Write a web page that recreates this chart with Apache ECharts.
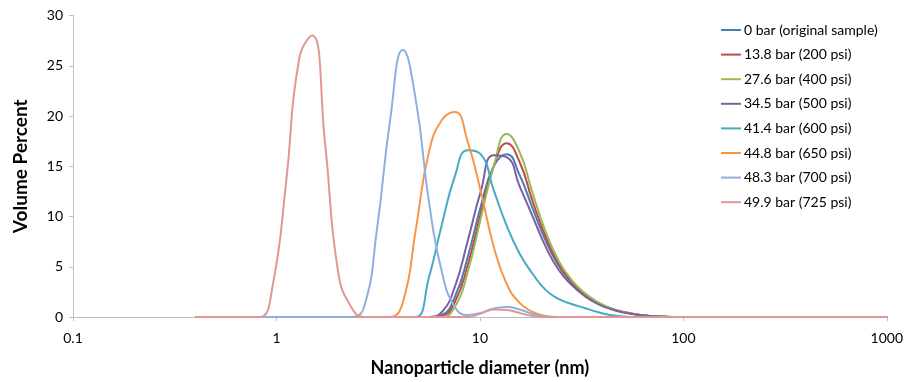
<!DOCTYPE html>
<html><head><meta charset="utf-8">
<script src="https://cdn.jsdelivr.net/npm/echarts@6/dist/echarts.min.js"></script>
<style>html,body{margin:0;padding:0;background:#fff}#c{width:906px;height:382px}</style>
</head><body><div id="c"></div>
<script>
// Particle diameter bins (nm)
var diameters = [0.4, 0.4632, 0.5365, 0.6213, 0.7195, 0.8332, 0.9649, 1.117, 1.294, 1.499, 1.736, 2.01, 2.328, 2.696, 3.122, 3.615, 4.187, 4.849, 5.615, 6.503, 7.531, 8.721, 10.10, 11.70, 13.54, 15.69, 18.17, 21.04, 24.36, 28.21, 32.67, 37.84, 43.82, 50.75, 58.77, 68.06, 78.82, 91.28, 105.7, 122.4, 141.8, 164.2, 190.1, 220.2, 255.0, 295.3, 342.0, 396.1, 458.7, 531.2, 615.1, 712.4, 825.0, 955.4, 1106];
var seriesNames = ["0 bar (original sample)", "13.8 bar (200 psi)", "27.6 bar (400 psi)", "34.5 bar (500 psi)", "41.4 bar (600 psi)", "44.8 bar (650 psi)", "48.3 bar (700 psi)", "49.9 bar (725 psi)"];
//                0.4 ... (first 19 bins up to 5.615)                          6.503 7.531 8.721 10.10 11.70 13.54 15.69 18.17 21.04 24.36 28.21 32.67 37.84 43.82 50.75 58.77 68.06 78.82 91.28 ...
var bar0   = [0,0,0,0,0,0,0,0,0,0,0,0,0,0,0,0,0,0,0, 0.2, 2.0, 6.0, 11.0, 15.0, 16.2, 14.1, 10.8, 7.6, 5.1, 3.4, 2.2, 1.4, 0.85, 0.5, 0.25, 0.1, 0.03, 0, 0,0,0,0,0,0,0,0,0,0,0,0,0,0,0,0,0];
var bar138 = [0,0,0,0,0,0,0,0,0,0,0,0,0,0,0,0,0,0,0, 0.1, 1.5, 5.2, 10.3, 15.0, 17.3, 15.4, 11.5, 8.0, 5.3, 3.5, 2.3, 1.4, 0.85, 0.5, 0.25, 0.1, 0.03, 0, 0,0,0,0,0,0,0,0,0,0,0,0,0,0,0,0,0];
var bar276 = [0,0,0,0,0,0,0,0,0,0,0,0,0,0,0,0,0,0,0, 0.0, 1.0, 4.5, 9.8, 15.0, 18.2, 16.4, 12.3, 8.5, 5.6, 3.7, 2.4, 1.5, 0.9, 0.5, 0.25, 0.1, 0.03, 0, 0,0,0,0,0,0,0,0,0,0,0,0,0,0,0,0,0];
var bar345 = [0,0,0,0,0,0,0,0,0,0,0,0,0,0,0,0,0,0,0, 0.5, 3.0, 7.6, 12.5, 16.1, 15.9, 13.0, 10.0, 7.0, 4.7, 3.2, 2.1, 1.3, 0.8, 0.45, 0.25, 0.1, 0.05, 0, 0,0,0,0,0,0,0,0,0,0,0,0,0,0,0,0,0];
//                0.4 ... up to 4.849 (18 bins)          5.615 6.503 7.531 8.721 10.10 11.70 13.54 15.69 18.17 21.04 24.36 28.21 32.67 37.84 43.82 50.75 ...
var bar414 = [0,0,0,0,0,0,0,0,0,0,0,0,0,0,0,0,0,0, 3.9, 9.2, 14.0, 16.6, 16.2, 12.6, 9.1, 6.3, 4.3, 2.7, 1.8, 1.3, 0.9, 0.5, 0.2, 0.05, 0, 0,0,0,0,0,0,0,0,0,0,0,0,0,0,0,0,0,0,0,0];
//                0.4 ... up to 3.615 (16 bins)    4.187 4.849 5.615 6.503 7.531 8.721 10.10 11.70 13.54 15.69 18.17 21.04 24.36
var bar448 = [0,0,0,0,0,0,0,0,0,0,0,0,0,0,0,0, 1.5, 8.8, 16.4, 19.6, 20.4, 17.4, 12.5, 7.0, 3.3, 1.4, 0.5, 0.1, 0, 0,0,0,0,0,0,0,0,0,0,0,0,0,0,0,0,0,0,0,0,0,0,0,0,0,0];
//                0.4 ... up to 2.328 (13 bins)  2.696 3.122 3.615 4.187 4.849 5.615 6.503 7.531 8.721 10.10 11.70 13.54 15.69 18.17 21.04
var bar483 = [0,0,0,0,0,0,0,0,0,0,0,0,0, 1.0, 8.8, 19.5, 26.6, 21.5, 11.5, 4.5, 1.0, 0.2, 0.4, 0.85, 1.0, 0.75, 0.3, 0.05, 0, 0,0,0,0,0,0,0,0,0,0,0,0,0,0,0,0,0,0,0,0,0,0,0,0,0,0];
//                0.4 .. 0.8332 (6 bins) 0.9649 1.117 1.294 1.499 1.736 2.01 2.328 2.696 ... 8.721 10.10 11.70 13.54 15.69 18.17 21.04
var bar499 = [0,0,0,0,0,0, 3.5, 13.5, 25.7, 28.0, 17.2, 4.5, 1.0, 0, 0,0,0,0,0,0,0,0, 0.35, 0.75, 0.7, 0.4, 0.1, 0, 0,0,0,0,0,0,0,0,0,0,0,0,0,0,0,0,0,0,0,0,0,0,0,0,0,0,0];
var xTicks = [0.1, 1, 10, 100, 1000];
var yTicks = [0, 5, 10, 15, 20, 25, 30];

var allValues = [bar0, bar138, bar276, bar345, bar414, bar448, bar483, bar499];
var colors = ["#4A7EBB", "#BE4B48", "#98B954", "#7D60A0", "#46AAC5", "#F79646", "#8EB0E0", "#E29796"];

var chart = echarts.init(document.getElementById('c'), null, {renderer: 'canvas'});
var font = 'Lato, "Liberation Sans", sans-serif';
var series = allValues.map(function (vals, i) {
  return {
    name: seriesNames[i],
    type: 'line',
    smooth: 0.5,
    symbol: 'none',
    showSymbol: false,
    clip: true,
    lineStyle: {width: 2, color: colors[i]},
    itemStyle: {color: colors[i]},
    data: diameters.map(function (d, k) { return [d, vals[k]]; })
  };
});
chart.setOption({
  animation: false,
  backgroundColor: '#fff',
  color: colors,
  grid: {left: 73, right: 18, top: 15.5, bottom: 62.5, containLabel: false},
  legend: {
    orient: 'vertical', left: 716, top: 18,
    icon: 'rect', itemWidth: 20, itemHeight: 2, itemGap: 10.6,
    textStyle: {fontFamily: font, fontSize: 14, color: '#000', padding: [0,0,0,-2]},
    data: seriesNames
  },
  xAxis: {
    type: 'log', logBase: 10, min: xTicks[0], max: xTicks[xTicks.length - 1],
    name: 'Nanoparticle diameter (nm)', nameLocation: 'middle', nameGap: 42,
    nameTextStyle: {fontFamily: font, fontSize: 18, fontWeight: 'bold', color: '#000'},
    axisLine: {show: true, lineStyle: {color: '#BFBFBF', width: 1}},
    axisTick: {show: true, length: 4, lineStyle: {color: '#BFBFBF'}},
    minorTick: {show: false},
    splitLine: {show: false},
    axisLabel: {fontFamily: font, fontSize: 14, color: '#000', margin: 14,
      formatter: function (v) { return String(+v.toPrecision(6)); }}
  },
  yAxis: {
    type: 'value', min: yTicks[0], max: yTicks[yTicks.length - 1], interval: 5,
    name: 'Volume Percent', nameLocation: 'middle', nameGap: 43, nameRotate: 90,
    nameTextStyle: {fontFamily: font, fontSize: 19, fontWeight: 'bold', color: '#000'},
    axisLine: {show: true, lineStyle: {color: '#BFBFBF', width: 1}},
    axisTick: {show: true, length: 4, inside: false, lineStyle: {color: '#BFBFBF'}},
    splitLine: {show: false},
    axisLabel: {fontFamily: font, fontSize: 14, color: '#000', margin: 10}
  },
  series: series
});
</script></body></html>
